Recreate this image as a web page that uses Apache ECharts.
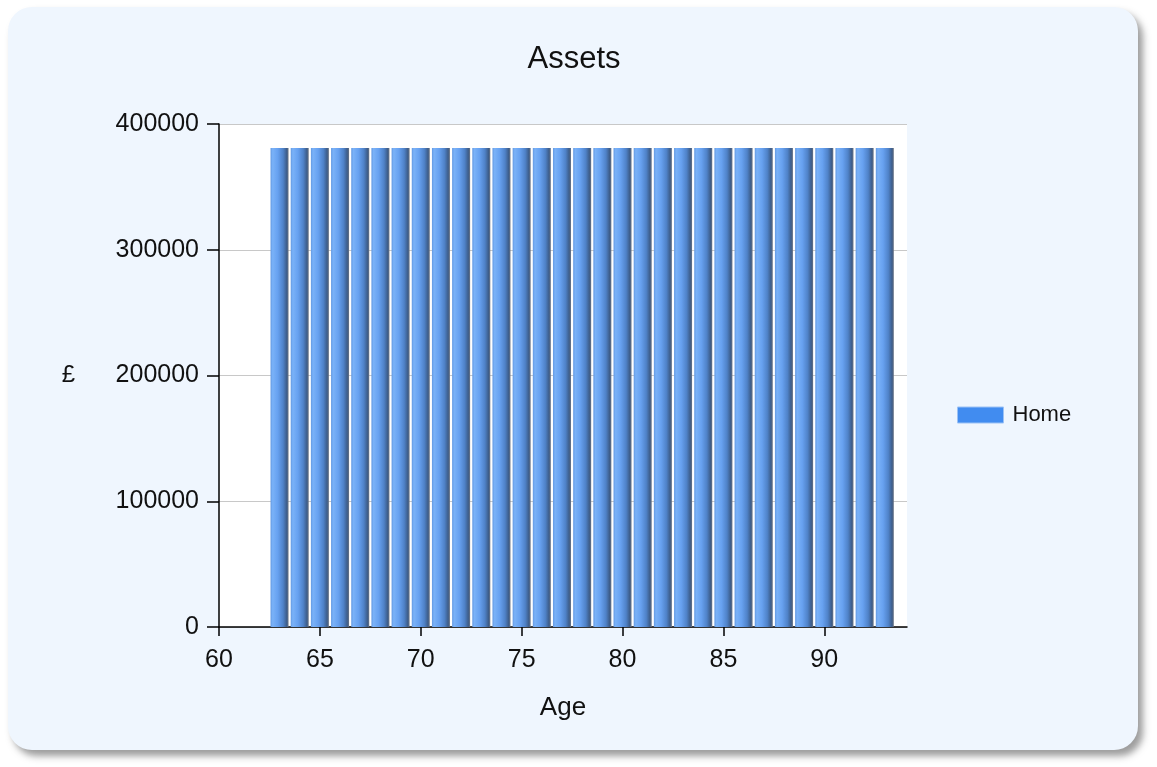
<!DOCTYPE html>
<html>
<head>
<meta charset="utf-8">
<title>Assets</title>
<script src="https://cdn.jsdelivr.net/npm/echarts@6/dist/echarts.min.js"></script>
<style>
  html, body { margin: 0; padding: 0; background: #ffffff; }
  #wrap { position: relative; width: 1157px; height: 767px; overflow: hidden; }
  #card {
    position: absolute; left: 8px; top: 7px; width: 1130px; height: 743px;
    background: #eff6fe; border-radius: 24px;
    box-shadow: 5px 6px 7px rgba(60, 60, 60, 0.5);
  }
  #chart { position: absolute; left: 0; top: 0; width: 1157px; height: 767px; }
</style>
</head>
<body>
<div id="wrap">
  <div id="card"></div>
  <div id="chart"></div>
</div>
<script>
// Age of the owner for each year of the projection
const ages = [63, 64, 65, 66, 67, 68, 69, 70, 71, 72, 73, 74, 75, 76, 77, 78,
              79, 80, 81, 82, 83, 84, 85, 86, 87, 88, 89, 90, 91, 92, 93];
// Value of the home (£) at each age
const homeValues = [381000, 381000, 381000, 381000, 381000, 381000, 381000, 381000,
                    381000, 381000, 381000, 381000, 381000, 381000, 381000, 381000,
                    381000, 381000, 381000, 381000, 381000, 381000, 381000, 381000,
                    381000, 381000, 381000, 381000, 381000, 381000, 381000];
const xTicks = [60, 65, 70, 75, 80, 85, 90];
const yTicks = [0, 100000, 200000, 300000, 400000];
const seriesName = 'Home';

const FONT = '"Liberation Sans", Arial, sans-serif';
const chart = echarts.init(document.getElementById('chart'), null, { renderer: 'canvas' });

// Cylinder-style shading across each bar
const barFill = new echarts.graphic.LinearGradient(0, 0, 1, 0, [
  { offset: 0.00, color: '#6399e2' },
  { offset: 0.12, color: '#7ab2f8' },
  { offset: 0.40, color: '#67a1f0' },
  { offset: 0.70, color: '#4f82c8' },
  { offset: 0.90, color: '#3d5d8a' },
  { offset: 1.00, color: '#6a7484' }
]);

chart.setOption({
  backgroundColor: 'transparent',
  animation: false,
  color: ['#418cf0'],
  title: {
    text: 'Assets',
    left: 574, top: 44, textAlign: 'center', padding: 0,
    textStyle: { fontFamily: FONT, fontSize: 31, fontWeight: 'normal', color: '#111111' }
  },
  legend: {
    data: [seriesName],
    left: 957, top: 404, padding: 0,
    itemWidth: 46, itemHeight: 16, itemGap: 10,
    icon: 'rect',
    itemStyle: { color: '#418cf0', borderColor: '#9cc2f5', borderWidth: 1 },
    textStyle: { fontFamily: FONT, fontSize: 22, color: '#111111', padding: [0, 0, 0, 4] }
  },
  grid: {
    left: 219, top: 124, width: 688, height: 503,
    show: true, backgroundColor: '#ffffff', borderWidth: 0
  },
  xAxis: {
    type: 'value',
    min: 60, max: 94.1, interval: 5,
    name: 'Age', nameLocation: 'middle', nameGap: 68,
    nameTextStyle: { fontFamily: FONT, fontSize: 26, color: '#111111' },
    axisLine: { show: true, lineStyle: { color: '#000000', width: 1.5 } },
    axisTick: { show: true, length: 9, customValues: xTicks, lineStyle: { color: '#000000', width: 1.5 } },
    axisLabel: { customValues: xTicks, margin: 21, fontFamily: FONT, fontSize: 25, color: '#111111' },
    splitLine: { show: false }
  },
  yAxis: {
    type: 'value',
    min: 0, max: 400000, interval: 100000,
    name: '£', nameLocation: 'middle', nameGap: 144, nameRotate: 0,
    nameTextStyle: { fontFamily: FONT, fontSize: 24, color: '#111111' },
    axisLine: { show: true, lineStyle: { color: '#000000', width: 1.5 } },
    axisTick: { show: true, length: 12, customValues: yTicks, lineStyle: { color: '#000000', width: 1.5 } },
    axisLabel: {
      customValues: yTicks, margin: 20, fontFamily: FONT, fontSize: 25, color: '#111111',
      formatter: v => String(v)
    },
    splitLine: { show: true, lineStyle: { color: '#c8c8c8', width: 1 } }
  },
  series: [{
    name: seriesName,
    type: 'bar',
    barWidth: 18,
    data: ages.map((a, i) => [a, homeValues[i]]),
    itemStyle: { color: barFill },
    emphasis: { disabled: true }
  }]
});
</script>
</body>
</html>
